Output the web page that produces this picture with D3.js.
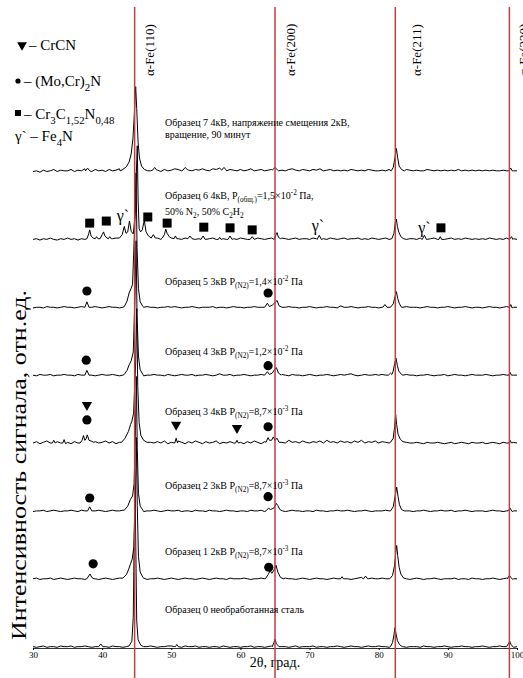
<!DOCTYPE html>
<html>
<head>
<meta charset="utf-8">
<script src="https://cdn.jsdelivr.net/npm/d3@7"></script>
<style>
  body { margin: 0; background: #fff; }
  svg { display: block; }
  text { font-family: "Liberation Serif", "Times New Roman", serif; fill: #000; }
</style>
</head>
<body>
<div id="vis"></div>
<script>
"use strict";
const [width, height] = [523, 678];

// 2θ grid of the baseline readings
const thetaStart = 30, thetaStep = 0.5;

// baseline readings (rel. units) per sample, 30..100 deg every 0.5 deg
const base0 = [2,1,2,3,1,2,2,1,3,2, 2,3,1,2,2,3,2,1,2,3, 2,2,1,3,2,2,1,2,3,2, 2,1,2,2,3,2,1,2,2,3,
  3,2,2,1,3,2,2,3,1,2, 2,1,2,2,1,3,2,1,2,2, 1,2,2,3,1,2,2,1,2,3, 2,1,2,2,1,2,3,1,2,2,
  2,3,1,2,2,1,2,2,3,2, 1,2,3,2,2,1,2,3,2,2, 3,2,2,1,2,2,3,2,1,2, 2,2,1,3,2,2,1,2,2,3,
  2,1,2,2,3,2,2,1,2,2, 3,2,1,2,2,3,2,2,1,2, 2];
const base1 = [2,3,1,2,2,3,1,2,3,2, 1,2,3,2,2,1,3,2,2,1, 2,3,2,1,2,3,2,2,1,2, 2,2,3,1,2,2,3,2,1,2,
  3,2,1,2,3,2,2,1,2,3, 2,1,2,3,2,2,1,3,2,2, 2,3,2,1,2,2,3,2,2,1, 2,2,1,3,2,2,1,2,3,2,
  1,2,3,2,2,1,2,3,2,2, 2,2,1,2,3,4,2,2,3,2, 2,3,2,2,1,2,3,2,2,1, 2,3,2,1,2,2,3,2,1,2,
  2,2,3,1,2,2,1,3,2,2, 1,2,2,3,2,1,2,3,2,2, 2];
const base2 = [1,2,2,3,1,2,3,2,1,2, 2,3,2,1,3,2,2,1,2,3, 2,1,2,3,2,2,3,1,2,2, 3,2,1,2,2,3,2,1,2,3,
  2,2,3,1,2,2,1,3,2,2, 1,3,2,2,1,2,3,2,2,1, 2,2,1,3,2,2,3,1,2,2, 3,2,2,1,2,3,2,2,1,2,
  2,1,3,2,2,1,2,2,3,2, 2,3,2,1,2,2,3,2,1,2, 2,2,3,2,1,2,2,3,2,2, 1,2,2,3,2,1,2,2,3,2,
  2,3,1,2,2,3,2,1,2,2, 2,1,2,3,2,2,1,2,3,2, 2];
const base3 = [2,4,1,3,5,2,1,4,2,6, 3,1,4,2,5,2,3,1,4,2, 3,5,2,4,1,3,5,2,4,3, 2,4,1,5,3,2,4,2,5,1,
  3,2,5,3,1,4,2,5,3,1, 4,2,3,5,1,3,2,4,2,5, 3,1,4,2,5,3,1,4,3,2, 4,5,3,2,6,3,4,2,5,3,
  2,4,3,5,2,6,3,4,2,5, 3,4,2,5,3,6,2,4,3,5, 2,4,3,2,4,3,2,4,3,2, 2,3,2,1,3,2,2,3,2,1,
  2,3,1,2,3,2,1,3,2,2, 3,1,2,3,2,1,3,2,2,3, 2];
const base4 = [2,1,3,2,2,3,1,2,2,3, 2,2,1,3,2,2,3,2,1,2, 3,2,2,3,2,1,2,2,3,2, 2,3,1,2,2,3,2,2,1,3,
  2,1,2,3,2,2,3,1,2,2, 3,2,1,2,4,2,2,3,1,2, 2,3,2,1,2,2,3,2,2,3, 2,2,3,2,1,3,2,2,1,2,
  3,2,1,2,2,3,2,1,2,3, 2,3,4,2,1,2,3,2,2,3, 2,3,2,4,2,2,1,2,3,2, 2,1,2,2,3,2,1,2,2,3,
  1,2,3,2,2,1,2,3,2,2, 2,3,2,1,2,2,3,2,1,2, 2];
const base5 = [1,2,2,1,3,2,2,1,2,3, 2,2,1,2,3,1,2,2,3,2, 1,2,3,2,2,1,2,3,2,2, 2,1,2,3,2,2,1,2,2,3,
  2,3,2,1,2,2,3,2,1,2, 2,2,3,1,2,2,1,2,3,2, 2,1,2,2,3,2,2,1,2,3, 2,2,1,2,3,2,2,1,2,2,
  3,2,1,2,2,3,2,2,1,4, 2,2,3,2,1,2,2,3,2,2, 1,2,3,2,2,1,2,2,3,2, 2,2,1,2,3,2,2,1,2,2,
  3,2,1,2,2,3,2,1,2,2, 1,2,3,2,2,1,2,3,2,2, 2];
const base6 = [2,3,1,3,2,4,2,1,3,2, 4,2,3,1,3,2,4,3,2,3, 3,2,4,3,4,2,5,3,4,5, 4,3,2,4,5,3,4,2,3,4,
  3,5,3,2,4,6,3,2,3,4, 2,3,4,2,5,3,2,4,3,2, 4,3,2,3,2,4,3,2,3,4, 3,2,4,3,2,3,4,2,3,3,
  2,4,3,2,3,2,4,3,2,3, 4,2,3,3,4,2,3,2,4,3, 2,3,4,2,3,2,4,3,2,3, 3,2,4,3,2,3,4,2,3,2,
  3,4,2,3,2,4,3,2,3,2, 3,2,4,3,2,3,2,4,2,3, 2];
const base7 = [2,3,1,4,2,3,5,2,4,3, 3,5,2,4,3,6,4,2,5,3, 4,2,5,3,4,6,3,5,4,6, 3,5,4,6,3,5,4,2,5,3,
  4,6,5,3,6,4,3,5,4,6, 4,3,6,5,7,4,3,5,4,3, 5,3,4,6,3,4,5,3,4,5, 5,3,4,3,5,6,4,3,5,4,
  3,5,4,6,3,4,5,3,4,3, 4,3,5,4,3,4,3,5,4,3, 3,4,3,5,4,3,4,3,5,4, 3,4,3,3,5,4,3,4,3,4,
  3,4,3,5,3,4,3,4,3,4, 3,4,3,4,3,3,4,3,4,3, 3];

// reflections: [2θ, intensity] runs
const peaks0 = [
  [[39.5,2],[39.8,6],[40.1,2]],
  [[43.9,3],[44.3,10],[44.5,45],[44.62,150],[44.75,240],[44.88,140],[45.0,40],[45.2,12],[45.6,4]],
  [[50.6,2],[50.8,5],[51.0,2]],
  [[64.6,2],[64.85,8],[65.0,13],[65.2,6],[65.6,2]],
  [[81.7,2],[82.0,8],[82.2,19],[82.35,30],[82.5,21],[82.7,11],[83.0,5],[83.4,2]],
  [[98.5,2],[98.8,7],[98.95,10],[99.15,5],[99.5,1]]
];
const peaks1 = [
  [[37.8,2],[38.05,6],[38.25,9],[38.5,4],[38.8,2]],
  [[43.0,3],[43.5,8],[43.8,15],[44.1,24],[44.35,31],[44.6,50],[44.82,130],[44.95,210],[45.08,110],[45.25,35],[45.5,12],[45.9,4]],
  [[63.6,2],[64.0,8],[64.3,14],[64.55,10],[64.85,15],[65.15,22],[65.4,12],[65.8,4],[66.2,2]],
  [[74.5,2],[74.7,5],[74.9,2]],
  [[77.8,2],[78.1,6],[78.4,2]],
  [[81.6,2],[82.0,7],[82.3,22],[82.5,44],[82.6,51],[82.75,36],[82.95,19],[83.2,9],[83.6,3]],
  [[98.6,2],[98.9,7],[99.1,4],[99.4,1]]
];
const peaks2 = [
  [[37.9,2],[38.2,8],[38.5,2]],
  [[43.2,3],[43.7,9],[44.1,19],[44.4,24],[44.62,42],[44.82,120],[44.95,200],[45.08,95],[45.25,28],[45.5,9],[45.9,3]],
  [[63.7,2],[64.05,6],[64.35,4],[64.8,6],[65.2,13],[65.4,10],[65.7,4],[66.1,2]],
  [[81.7,2],[82.1,8],[82.4,25],[82.6,37],[82.8,23],[83.0,11],[83.3,4],[83.7,2]],
  [[98.7,2],[99.0,6],[99.3,1]]
];
const peaks3 = [
  [[32.8,2],[33.0,6],[33.2,2]],
  [[34.3,2],[34.5,7],[34.7,1]],
  [[36.8,2],[37.1,6],[37.3,13],[37.5,6],[37.7,9],[37.85,14],[38.1,6],[38.4,5],[38.8,3]],
  [[42.8,3],[43.3,9],[43.8,19],[44.1,29],[44.3,34],[44.55,46],[44.85,120],[45.0,200],[45.15,85],[45.35,32],[45.6,13],[46.0,6],[46.5,3]],
  [[50.5,2],[50.7,9],[50.9,2]],
  [[59.3,2],[59.5,6],[59.7,2]],
  [[63.7,3],[64.0,10],[64.2,6],[64.5,6],[64.75,11],[65.0,6],[65.3,9],[65.6,3]],
  [[81.7,3],[82.1,9],[82.3,26],[82.45,44],[82.6,29],[82.8,15],[83.1,8],[83.5,4]],
  [[98.8,2],[99.0,6],[99.2,2]]
];
const peaks4 = [
  [[37.5,2],[37.8,9],[38.1,2]],
  [[43.2,3],[43.6,9],[43.9,17],[44.2,23],[44.5,36],[44.75,120],[44.9,200],[45.05,90],[45.25,30],[45.5,10],[45.9,3]],
  [[63.5,2],[63.9,7],[64.2,3],[64.6,5],[65.0,11],[65.2,13],[65.5,5],[65.9,2]],
  [[81.4,2],[81.7,5],[81.9,3],[82.1,8],[82.3,19],[82.5,27],[82.7,16],[82.9,8],[83.3,3]],
  [[98.8,2],[99.0,6],[99.2,2]]
];
const peaks5 = [
  [[37.5,2],[37.8,10],[38.1,2]],
  [[43.2,3],[43.6,11],[43.9,23],[44.2,30],[44.4,36],[44.7,120],[44.9,200],[45.05,90],[45.25,30],[45.5,10],[45.9,3]],
  [[63.5,2],[63.9,8],[64.2,3],[64.6,5],[65.0,9],[65.3,12],[65.6,4],[66.0,2]],
  [[80.6,2],[80.9,6],[81.2,2]],
  [[81.7,2],[82.1,7],[82.4,19],[82.55,25],[82.75,15],[83.0,7],[83.3,2]],
  [[98.9,2],[99.1,6],[99.3,1]]
];
const peaks6 = [
  [[37.8,3],[38.05,10],[38.2,16],[38.4,7],[38.7,4]],
  [[39.0,3],[39.2,6],[39.4,3]],
  [[39.7,3],[40.0,9],[40.2,13],[40.4,7],[40.7,4]],
  [[40.9,3],[41.1,6],[41.3,3]],
  [[42.5,4],[42.9,9],[43.2,21],[43.45,11],[43.7,13],[43.95,29],[44.2,14],[44.5,10],[44.8,40],[44.95,100],[45.08,140],[45.2,60],[45.35,18],[45.55,13],[45.8,16],[46.1,30],[46.35,13],[46.7,7],[47.1,4],[47.4,9],[47.7,4]],
  [[48.7,4],[49.0,9],[49.2,17],[49.4,11],[49.7,6],[50.0,4]],
  [[50.4,3],[50.6,7],[50.8,3]],
  [[52.4,3],[52.7,7],[53.0,3]],
  [[54.3,2],[54.6,7],[54.9,2]],
  [[56.8,2],[57.0,5],[57.2,2]],
  [[58.2,2],[58.5,7],[58.8,2]],
  [[61.4,2],[61.7,6],[62.0,2]],
  [[64.9,2],[65.15,9],[65.3,12],[65.5,5],[65.8,3]],
  [[71.1,2],[71.4,8],[71.7,2]],
  [[81.9,3],[82.2,11],[82.4,27],[82.55,32],[82.7,21],[82.9,13],[83.2,6],[83.6,3]],
  [[86.3,2],[86.6,8],[86.9,2]],
  [[88.7,2],[88.9,6],[89.1,2]],
  [[98.9,2],[99.2,6],[99.4,2]]
];
const peaks7 = [
  [[37.6,3],[37.9,7],[38.2,3]],
  [[42.6,3],[43.0,5],[43.5,9],[43.9,16],[44.2,28],[44.45,50],[44.65,85],[44.85,127],[45.0,95],[45.2,45],[45.4,22],[45.7,10],[46.1,5],[46.6,3]],
  [[47.3,4],[47.6,8],[47.9,4]],
  [[51.7,4],[52.0,8],[52.3,5]],
  [[57.3,4],[57.6,8],[57.9,5]],
  [[64.6,4],[65.0,8],[65.4,4]],
  [[81.8,3],[82.1,8],[82.35,22],[82.55,36],[82.75,22],[82.95,10],[83.3,5],[83.7,3]],
  [[98.8,3],[99.1,7],[99.3,3]]
];

const bases = [base0, base1, base2, base3, base4, base5, base6, base7];
const peakSets = [peaks0, peaks1, peaks2, peaks3, peaks4, peaks5, peaks6, peaks7];
const stackOffset = 100; // each pattern shifted up by this many units

// alpha-Fe reference reflections
const feLines = [44.7, 65.0, 82.4, 98.9];
const feNames = ['α-Fe(110)', 'α-Fe(200)', 'α-Fe(211)', 'α-Fe(220)'];

// phase markers: [sample, 2θ, level above sample baseline]
const squareMarks = [[6,38.2,26],[6,40.6,29],[6,46.6,35],[6,49.4,26],[6,54.7,20],[6,58.5,19],[6,61.7,16],[6,89.0,19]];
const gammaMarks = [[6,43.0,38],[6,71.2,23],[6,86.6,20]];
const circleMarks = [[5,37.8,26],[5,64.0,23],[4,37.7,24],[4,64.0,16],[3,37.8,36],[3,64.0,26],[2,38.2,21],[2,64.0,23],[1,38.7,24],[1,64.1,19]];
const triangleMarks = [[3,37.8,58],[3,50.7,29],[3,59.5,24]];

const xTicks = [30, 40, 50, 60, 70, 80, 90, 100];

// sample captions, segments [text, 'sub'|'sup']
const sampleLabels = [
  [[['Образец 0 необработанная сталь']]],
  [[['Образец 1 2кВ P'],['(N2)','sub'],['=8,7×10'],['-3','sup'],[' Па']]],
  [[['Образец 2 3кВ P'],['(N2)','sub'],['=8,7×10'],['-3','sup'],[' Па']]],
  [[['Образец 3 4кВ P'],['(N2)','sub'],['=8,7×10'],['-3','sup'],[' Па']]],
  [[['Образец 4 3кВ P'],['(N2)','sub'],['=1,2×10'],['-2','sup'],[' Па']]],
  [[['Образец 5 3кВ P'],['(N2)','sub'],['=1,4×10'],['-2','sup'],[' Па']]],
  [[['Образец 6 4кВ, P'],['(общ.)','sub'],['=1,5×10'],['-2','sup'],[' Па,']],
   [['50% N'],['2','sub'],[', 50% C'],['2','sub'],['H'],['2','sub']]],
  [[['Образец 7 4кВ, напряжение смещения 2кВ,']],[['вращение, 90 минут']]]
];

const legendLabels = [
  [['– CrCN']],
  [['– (Mo,Cr)'],['2','sub'],['N']],
  [['– Cr'],['3','sub'],['C'],['1,52','sub'],['N'],['0,48','sub']],
  [['γ` – Fe'],['4','sub'],['N']]
];

function buildTrace(base, peaks) {
  const pts = [];
  base.forEach((v, i) => {
    const t = thetaStart + i * thetaStep;
    if (!peaks.some(p => t >= p[0][0] && t <= p[p.length - 1][0])) pts.push([t, v]);
  });
  peaks.forEach(p => p.forEach(q => pts.push(q)));
  return pts.sort((a, b) => a[0] - b[0]);
}

function rich(sel, parts, fs) {
  let cur = 0;
  parts.forEach(([t, mode]) => {
    const off = mode === 'sub' ? fs * 0.3 : mode === 'sup' ? -fs * 0.42 : 0;
    sel.append('tspan')
      .attr('dy', off - cur)
      .style('font-size', (mode ? fs * 0.72 : fs) + 'px')
      .text(t);
    cur = off;
  });
}

const x = d3.scaleLinear().domain([30, 100]).range([33, 517]);
const y = d3.scaleLinear().domain([0, 800]).range([648, 105]);
const lvl = (s, v) => y(s * stackOffset + v);

const svg = d3.select('#vis').append('svg')
  .attr('width', width).attr('height', height)
  .attr('viewBox', [0, 0, width, height]);
svg.append('rect').attr('width', width).attr('height', height).attr('fill', '#fff');

// x axis
const axis = svg.append('g')
  .attr('transform', `translate(0,${y(0)})`)
  .call(d3.axisBottom(x).tickValues(xTicks).tickSize(2).tickPadding(2).tickFormat(d3.format('d')));
axis.select('.domain').attr('stroke', '#000').attr('stroke-width', 0.8);
axis.selectAll('.tick line').attr('stroke', '#000');
axis.selectAll('text').style('font-family', '"Liberation Serif", serif').style('font-size', '9px').attr('fill', '#222');

svg.append('text')
  .attr('x', 275).attr('y', 667)
  .attr('text-anchor', 'middle')
  .style('font-size', '14px')
  .text('2θ, град.');

svg.append('text')
  .attr('transform', 'translate(26,465) rotate(-90)')
  .attr('text-anchor', 'middle')
  .attr('textLength', 350)
  .attr('lengthAdjust', 'spacingAndGlyphs')
  .style('font-size', '21px')
  .text('Интенсивность сигнала, отн.ед.');

// patterns
const line = d3.line();
bases.forEach((b, s) => {
  const pts = buildTrace(b, peakSets[s]);
  svg.append('path')
    .attr('d', line(pts.map(d => [x(d[0]), lvl(s, d[1])])))
    .attr('fill', 'none')
    .attr('stroke', '#000')
    .attr('stroke-width', 1)
    .attr('stroke-linejoin', 'round');
});

// reference lines
svg.selectAll('line.fe')
  .data(feLines)
  .join('line')
    .attr('class', 'fe')
    .attr('x1', d => x(d)).attr('x2', d => x(d))
    .attr('y1', 7).attr('y2', height)
    .attr('stroke', '#bf3f42')
    .attr('stroke-width', 1.5);

const feX = [154, 295, 421, 528];
feNames.forEach((n, i) => {
  svg.append('text')
    .attr('transform', `translate(${feX[i]},76) rotate(-90)`)
    .style('font-size', '13px')
    .attr('fill', i === 3 ? '#d9d08c' : '#000')
    .text(n);
});

// sample captions
const labelBase = [[613], [555], [489], [415], [355], [285], [199, 215], [126, 138]];
sampleLabels.forEach((lines, s) => {
  lines.forEach((parts, j) => {
    const t = svg.append('text').attr('x', 165).attr('y', labelBase[s][j]);
    rich(t, parts, 10);
  });
});

// phase markers
svg.selectAll('rect.sq')
  .data(squareMarks)
  .join('rect')
    .attr('class', 'sq')
    .attr('x', d => x(d[1]) - 4.5).attr('y', d => lvl(d[0], d[2]) - 4.5)
    .attr('width', 9).attr('height', 9)
    .attr('fill', '#000');
svg.selectAll('circle.mk')
  .data(circleMarks)
  .join('circle')
    .attr('class', 'mk')
    .attr('cx', d => x(d[1])).attr('cy', d => lvl(d[0], d[2]))
    .attr('r', 4.6)
    .attr('fill', '#000');
const tri = d3.symbol().type(d3.symbolTriangle).size(46);
svg.selectAll('path.tri')
  .data(triangleMarks)
  .join('path')
    .attr('class', 'tri')
    .attr('d', tri)
    .attr('transform', d => `translate(${x(d[1])},${lvl(d[0], d[2])}) rotate(180)`)
    .attr('fill', '#000');
svg.selectAll('text.gm')
  .data(gammaMarks)
  .join('text')
    .attr('class', 'gm')
    .attr('x', d => x(d[1])).attr('y', d => lvl(d[0], d[2]))
    .attr('dy', '0.35em')
    .attr('text-anchor', 'middle')
    .style('font-size', '16px')
    .text('γ`');

// legend
const lg = svg.append('g');
lg.append('path').attr('d', d3.symbol().type(d3.symbolTriangle).size(42))
  .attr('transform', 'translate(22,45) rotate(180)').attr('fill', '#000');
lg.append('circle').attr('cx', 18).attr('cy', 81).attr('r', 2.6).attr('fill', '#000');
lg.append('rect').attr('x', 15).attr('y', 110).attr('width', 6).attr('height', 6).attr('fill', '#000');
const legendPos = [[29, 50], [24, 86], [24, 119], [15, 141]];
legendLabels.forEach((parts, i) => {
  const t = lg.append('text').attr('x', legendPos[i][0]).attr('y', legendPos[i][1]);
  rich(t, parts, 15);
});
</script>
</body>
</html>
